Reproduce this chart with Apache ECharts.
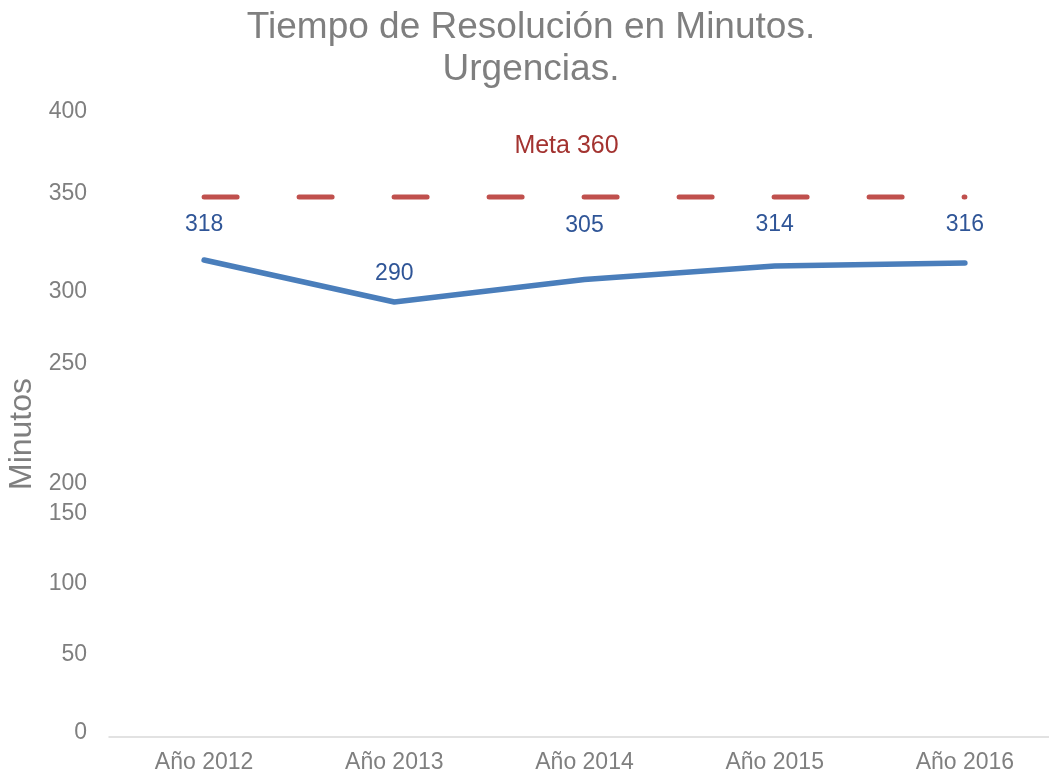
<!DOCTYPE html>
<html>
<head>
<meta charset="utf-8">
<title>Tiempo de Resolución en Minutos</title>
<script src="https://cdn.jsdelivr.net/npm/echarts@6/dist/echarts.min.js"></script>
<style>
  html, body { margin: 0; padding: 0; background: #fff; }
  #chart { width: 1049px; height: 776px; }
</style>
</head>
<body>
<div id="chart"></div>
<script>
// data
const years = ['Año 2012', 'Año 2013', 'Año 2014', 'Año 2015', 'Año 2016'];
const minutos = [318, 290, 305, 314, 316];
const meta = [360, 360, 360, 360, 360];
const yTicks = [0, 50, 100, 150, 200, 250, 300, 350, 400];

// layout tweaks: the source chart's tick labels sit a little off their values
const tickNudge = { 0: 3, 50: 5, 100: 2, 150: -1, 200: -31, 250: -1, 300: -3, 350: 12, 400: 17 };
const labelLift = [24, 17, 42, 30, 27];

const gray = '#7f7f7f';
const font = '"Liberation Sans", Arial, sans-serif';

const chart = echarts.init(document.getElementById('chart'));

const labelPos = yTicks.map(v => v + tickNudge[v]);

chart.setOption({
  animation: false,
  title: {
    text: 'Tiempo de Resolución en Minutos.\nUrgencias.',
    left: 531,
    top: 7,
    padding: 0,
    textAlign: 'center',
    textStyle: { color: gray, fontFamily: font, fontSize: 37, fontWeight: 'normal', lineHeight: 42 }
  },
  grid: { left: 109, right: -11, top: 107, bottom: 39, outerBoundsMode: 'none', containLabel: false },
  xAxis: {
    type: 'category',
    data: years,
    axisLine: { lineStyle: { color: '#d9d9d9', width: 1.5 } },
    axisTick: { show: false },
    axisLabel: { color: gray, fontFamily: font, fontSize: 23, margin: 14 }
  },
  yAxis: {
    type: 'value',
    min: 0,
    max: 420,
    name: 'Minutos',
    nameLocation: 'middle',
    nameGap: 63,
    nameTextStyle: { color: gray, fontFamily: font, fontSize: 32, padding: [0, 24, 0, 0] },
    splitLine: { show: false },
    axisLine: { show: false },
    axisTick: { show: false },
    axisLabel: {
      customValues: labelPos,
      color: gray,
      fontFamily: font,
      fontSize: 23,
      margin: 22,
      formatter: v => {
        const i = labelPos.findIndex(p => Math.abs(p - v) < 0.01);
        return i >= 0 ? String(yTicks[i]) : '';
      }
    }
  },
  series: [
    {
      name: 'Meta',
      type: 'line',
      data: meta.map((v, i) => i === 2 ? {
        value: v,
        label: { show: true, formatter: 'Meta ' + v, position: 'top', distance: 38, offset: [-18, 0] }
      } : v),
      symbol: 'circle',
      symbolSize: 0,
      showSymbol: true,
      lineStyle: { color: '#c0504d', width: 5, type: [33, 62], cap: 'round' },
      label: { show: false, color: '#a33330', fontFamily: font, fontSize: 25 },
      z: 2
    },
    {
      name: 'Minutos',
      type: 'line',
      data: minutos.map((v, i) => ({ value: v, label: { distance: labelLift[i] } })),
      symbol: 'circle',
      symbolSize: 0,
      showSymbol: true,
      lineStyle: { color: '#4a7ebb', width: 5.5, cap: 'round' },
      label: { show: true, position: 'top', color: '#2f5597', fontFamily: font, fontSize: 23 },
      z: 3
    }
  ]
});
</script>
</body>
</html>
